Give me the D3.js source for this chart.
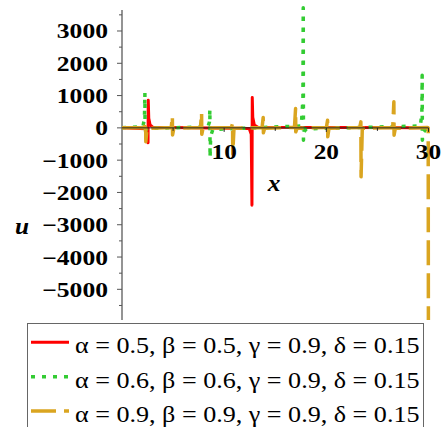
<!DOCTYPE html>
<html>
<head>
<meta charset="utf-8">
<script src="https://cdn.jsdelivr.net/npm/d3@7"></script>
<style>
  html, body { margin: 0; padding: 0; background: #fff; }
  svg { display: block; }
  text { font-family: "Liberation Serif", "Times New Roman", Times, serif; fill: #000; }
</style>
</head>
<body>
<svg id="chart" width="448" height="427"></svg>
<script>
// Solutions u(x) for three parameter sets; each series is sampled around its poles.
const redX = [0, 2.35, 2.50, 2.55, 2.57, 2.62, 2.75, 3.0, 12.45, 12.65, 12.72, 12.75, 12.80, 12.95, 13.3, 30];
const redU = [0, -30, -120, -464, 857, 300, 90, 20, -20, -200, -2393, 941, 330, 90, 20, 0];

const greenX = [0, 2.05, 2.20, 2.24, 2.26, 2.32, 2.5, 8.40, 8.56, 8.60, 8.62, 8.68, 8.9,
                17.55, 17.71, 17.74, 17.76, 17.82, 18.05, 29.2, 29.35, 29.38, 29.40, 29.48, 29.7, 30];
const greenU = [0, 40, 300, 1084, -200, -60, -15, 30, 180, 570, -916, -250, -50,
                60, 900, 3720, -380, -120, -30, 60, 450, 1630, -380, -150, -60, 0];

const orangeX = [0, 2.20, 2.31, 2.33, 2.45, 4.82, 4.93, 4.95, 5.07, 7.68, 7.79, 7.81, 7.93,
                 10.71, 10.82, 10.84, 10.96, 13.71, 13.82, 13.84, 13.96, 16.88, 16.99, 17.01, 17.13,
                 20.01, 20.12, 20.14, 20.26, 23.27, 23.38, 23.40, 23.52, 26.50, 26.61, 26.63, 26.75,
                 29.90, 29.97, 29.99];
const orangeU = [0, 15, 186, -433, -15, 15, 360, -220, -15, 15, 465, -200, -15,
                 15, 135, -814, -15, 15, 322, -155, -15, 15, 600, -124, -15,
                 15, 238, -279, -15, 15, 186, -1517, -15, 15, 805, -226, -15,
                 10, 0, -6200];

const xMajor = [10, 20, 30];
const xMinor = [5, 15, 25];
const yMajor = [-5000, -4000, -3000, -2000, -1000, 0, 1000, 2000, 3000];
const yMinor = [-5500, -4500, -3500, -2500, -1500, -500, 500, 1500, 2500, 3500];

const legendLabels = [
  "\u03B1 = 0.5, \u03B2 = 0.5, \u03B3 = 0.9, \u03B4 = 0.15",
  "\u03B1 = 0.6, \u03B2 = 0.6, \u03B3 = 0.9, \u03B4 = 0.15",
  "\u03B1 = 0.9, \u03B2 = 0.9, \u03B3 = 0.9, \u03B4 = 0.15"
];

const series = [
  { xs: redX, us: redU, color: "#ff0000", width: 3, dash: null },
  { xs: greenX, us: greenU, color: "#33cc33", width: 3.5, dash: "4,7" },
  { xs: orangeX, us: orangeU, color: "#daa520", width: 3.5, dash: "25,8" }
];

const svg = d3.select("#chart");
const x = d3.scaleLinear().domain([0, 30]).range([122, 428.5]);
const y = d3.scaleLinear().domain([-5950, 3650]).range([320, 10]);

svg.append("defs").append("clipPath").attr("id", "plotClip")
  .append("rect").attr("x", 0).attr("y", 0).attr("width", 448).attr("height", 320);

// Text with a slight horizontal stretch
function label(g, tx, ty, str, size, weight, anchor, sx, style) {
  return g.append("text")
    .attr("transform", `translate(${tx},${ty}) scale(${sx},1)`)
    .attr("text-anchor", anchor)
    .attr("font-size", size)
    .attr("font-weight", weight)
    .attr("font-style", style || "normal")
    .text(str);
}

// y axis
const yAxis = svg.append("g");
yAxis.append("line").attr("x1", x(0)).attr("x2", x(0)).attr("y1", 10).attr("y2", 320)
  .attr("stroke", "#707070").attr("stroke-width", 1.5);
yAxis.selectAll("line.maj").data(yMajor).join("line").attr("class", "maj")
  .attr("x1", x(0) - 5).attr("x2", x(0)).attr("y1", d => y(d)).attr("y2", d => y(d))
  .attr("stroke", "#555").attr("stroke-width", 1);
yAxis.selectAll("line.min").data(yMinor).join("line").attr("class", "min")
  .attr("x1", x(0) - 3).attr("x2", x(0)).attr("y1", d => y(d)).attr("y2", d => y(d))
  .attr("stroke", "#555").attr("stroke-width", 1);
yMajor.forEach(v => {
  label(yAxis, 108, y(v) + 7.5, v < 0 ? "\u2212" + Math.abs(v) : String(v), 21, "bold", "end", 1.22);
});

// curves
const plot = svg.append("g").attr("clip-path", "url(#plotClip)");
series.forEach(s => {
  const pts = s.xs.map((d, i) => [d, s.us[i]]);
  plot.append("path")
    .attr("d", d3.line().x(d => x(d[0])).y(d => y(d[1]))(pts))
    .attr("fill", "none")
    .attr("stroke", s.color)
    .attr("stroke-width", s.width)
    .attr("stroke-dasharray", s.dash)
    .attr("stroke-linejoin", "round");
});

// x axis
const xAxis = svg.append("g");
xAxis.append("line").attr("x1", x(0)).attr("x2", x(30)).attr("y1", y(0)).attr("y2", y(0))
  .attr("stroke", "#222").attr("stroke-width", 1);
xAxis.selectAll("line.maj").data(xMajor).join("line").attr("class", "maj")
  .attr("x1", d => x(d)).attr("x2", d => x(d)).attr("y1", y(0)).attr("y2", y(0) + 4)
  .attr("stroke", "#222").attr("stroke-width", 1);
xAxis.selectAll("line.min").data(xMinor).join("line").attr("class", "min")
  .attr("x1", d => x(d)).attr("x2", d => x(d)).attr("y1", y(0)).attr("y2", y(0) + 3)
  .attr("stroke", "#222").attr("stroke-width", 1);
xMajor.forEach(v => {
  label(xAxis, x(v), 159, String(v), 22, "bold", "middle", 1.15);
});

// axis titles
label(svg, 274, 191, "x", 23, "bold", "middle", 1.1, "italic");
label(svg, 22, 234, "u", 23, "bold", "middle", 1.1, "italic");

// legend
const lg = svg.append("g");
lg.append("rect").attr("x", 27.5).attr("y", 323.5).attr("width", 396).attr("height", 120)
  .attr("fill", "#fff").attr("stroke", "#666").attr("stroke-width", 1);
series.forEach((s, i) => {
  const ly = 342.3 + i * 34.4;
  lg.append("line").attr("x1", 31).attr("x2", 69).attr("y1", ly).attr("y2", ly)
    .attr("stroke", s.color).attr("stroke-width", s.width).attr("stroke-dasharray", s.dash);
  label(lg, 75, ly + 11, legendLabels[i], 22.7, "normal", "start", 1.15);
});
</script>
</body>
</html>
